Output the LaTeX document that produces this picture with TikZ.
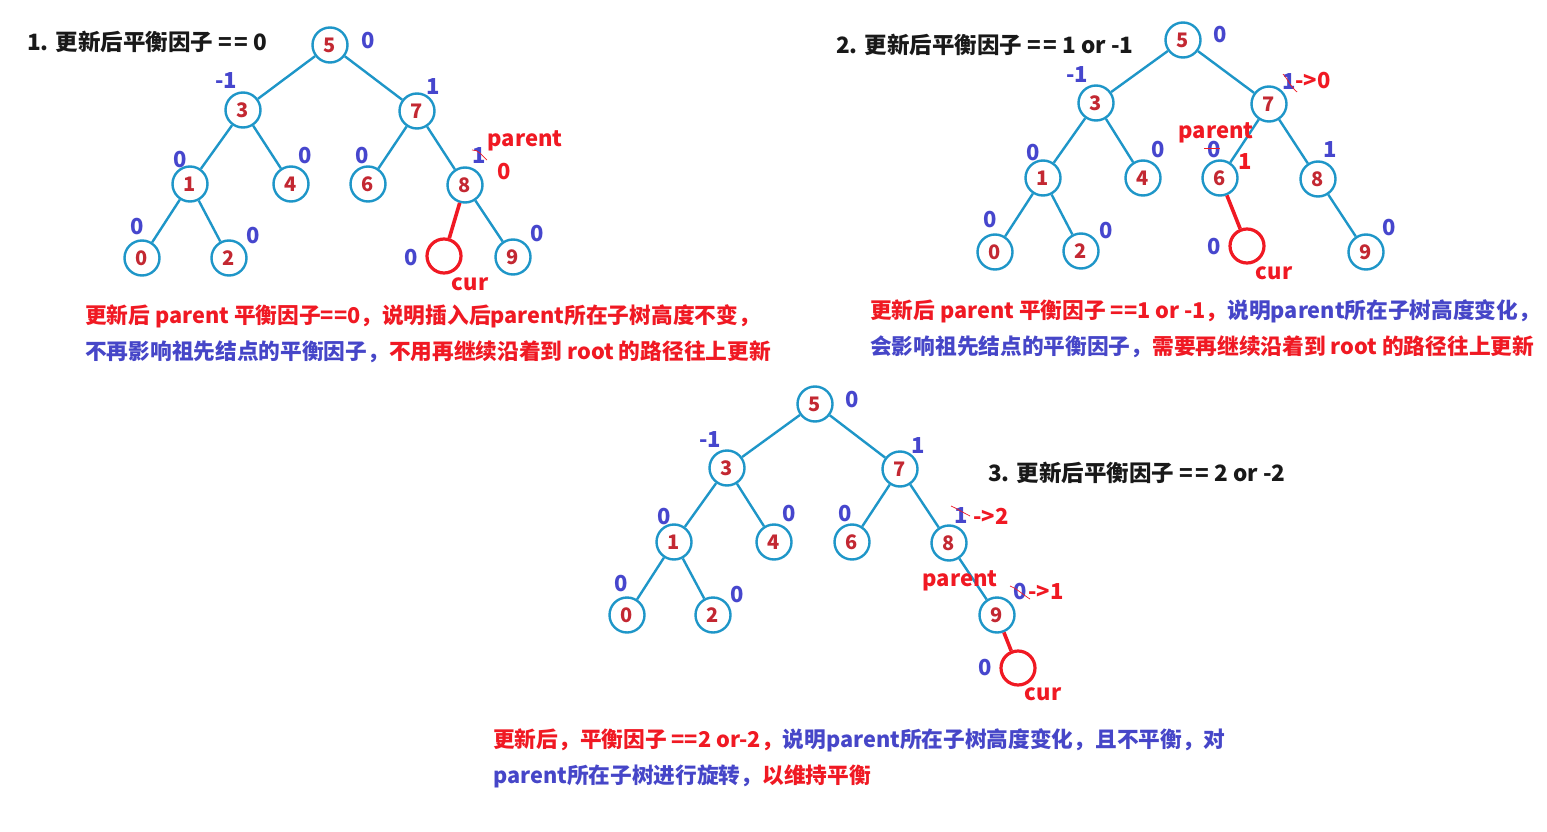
\documentclass[tikz,border=0pt]{standalone}
\usepackage{fontspec}
\setmainfont{Noto Sans CJK SC}
\definecolor{nodeblue}{RGB}{30,150,200}
\definecolor{numred}{RGB}{195,40,50}
\definecolor{lblblue}{RGB}{70,70,205}
\definecolor{txtred}{RGB}{240,25,35}
\definecolor{txtblue}{RGB}{70,70,200}
\definecolor{titleblack}{RGB}{25,25,25}
\newcommand{\eqeq}{=\kern2.5pt=}
\tikzset{
  tn/.style={circle,draw=nodeblue,line width=2.4pt,minimum size=35pt,inner sep=0pt,
    font=\fontsize{20}{20}\selectfont\bfseries,text=numred},
  curnode/.style={circle,draw=txtred,line width=3.2pt,minimum size=34pt,inner sep=0pt},
  edge/.style={draw=nodeblue,line width=2.4pt},
  rededge/.style={draw=txtred,line width=3.6pt},
  bf/.style={inner sep=0pt,font=\fontsize{22}{22}\selectfont\bfseries,text=lblblue},
  rf/.style={inner sep=0pt,font=\fontsize{22}{22}\selectfont\bfseries,text=txtred},
  title/.style={inner sep=0pt,anchor=west,font=\fontsize{22.5}{22.5}\selectfont\bfseries,text=titleblack},
  desc/.style={inner sep=0pt,anchor=west,font=\fontsize{21.7}{21.7}\selectfont\bfseries},
  strike/.style={draw=txtred,line width=0.7pt},
}
\begin{document}
\begin{tikzpicture}[x=1pt,y=-1pt]
\useasboundingbox[fill=white] (0,0) rectangle (1547,832);

% ---------------- Tree 1 ----------------
\node[title] (t1) at (27,42) {1. 更新后平衡因子 \eqeq{} 0};
\node[tn] (a5) at (330,45) {5};
\node[tn] (a3) at (243,110) {3};
\node[tn] (a7) at (417,111) {7};
\node[tn] (a1) at (190,184) {1};
\node[tn] (a4) at (291,184) {4};
\node[tn] (a6) at (368,184) {6};
\node[tn] (a8) at (465,185) {8};
\node[tn] (a0) at (142,258) {0};
\node[tn] (a2) at (229,258) {2};
\node[curnode] (acur) at (444,256) {};
\node[tn] (a9) at (513,257) {9};
\draw[edge] (a5) -- (a3); \draw[edge] (a5) -- (a7);
\draw[edge] (a3) -- (a1); \draw[edge] (a3) -- (a4);
\draw[edge] (a7) -- (a6); \draw[edge] (a7) -- (a8);
\draw[edge] (a1) -- (a0); \draw[edge] (a1) -- (a2);
\draw[edge] (a8) -- (a9);
\draw[rededge] (a8) -- (acur);
\node[bf] (la5) at (368,41) {0};
\node[bf] (la3) at (226,81) {-1};
\node[bf] (la7) at (433,87) {1};
\node[bf] (la1) at (180,160) {0};
\node[bf] (la4) at (305,156) {0};
\node[bf] (la6) at (362,156) {0};
\node[bf] (la8) at (479,156) {1};
\draw[strike] (472,150) .. controls (478,149) and (482,156) .. (487,160);
\node[rf] (pa) at (525,141) {parent};
\node[rf] (la8n) at (504,172) {0};
\node[bf] (la0) at (137,227) {0};
\node[bf] (la2) at (253,236) {0};
\node[bf] (lacur) at (411,258) {0};
\node[rf] (ca) at (470,284) {cur};
\node[bf] (la9) at (537,234) {0};
\node[desc] (d1a) at (85,316) {\color{txtred}更新后 parent 平衡因子==0，说明插入后parent所在子树高度不变，};
\node[desc] (d1b) at (85,352) {\color{txtblue}不再影响祖先结点的平衡因子，\color{txtred}不用再继续沿着到 root 的路径往上更新};

% ---------------- Tree 2 ----------------
\node[title] (t2) at (836,45) {2. 更新后平衡因子 \eqeq{} 1 or -1};
\node[tn] (b5) at (1183,40) {5};
\node[tn] (b3) at (1096,103) {3};
\node[tn] (b7) at (1269,104) {7};
\node[tn] (b1) at (1043,178) {1};
\node[tn] (b4) at (1143,178) {4};
\node[tn] (b6) at (1220,178) {6};
\node[tn] (b8) at (1318,179) {8};
\node[tn] (b0) at (995,252) {0};
\node[tn] (b2) at (1081,251) {2};
\node[curnode] (bcur) at (1247,246) {};
\node[tn] (b9) at (1366,252) {9};
\draw[edge] (b5) -- (b3); \draw[edge] (b5) -- (b7);
\draw[edge] (b3) -- (b1); \draw[edge] (b3) -- (b4);
\draw[edge] (b7) -- (b6); \draw[edge] (b7) -- (b8);
\draw[edge] (b1) -- (b0); \draw[edge] (b1) -- (b2);
\draw[edge] (b8) -- (b9);
\draw[rededge] (b6) -- (bcur);
\node[bf] (lb5) at (1220,35) {0};
\node[bf] (lb3) at (1077,75) {-1};
\node[bf] (lb7) at (1289,82) {1};
\draw[strike] (1283,74) .. controls (1287,78) and (1290,86) .. (1297,92);
\node[rf] (lb7n) at (1313,81) {->0};
\node[rf] (pb) at (1216,133) {parent};
\node[bf] (lb6) at (1214,150) {0};
\draw[strike] (1204,148) -- (1220,148);
\node[rf] (lb6n) at (1245,162) {1};
\node[bf] (lb1) at (1033,153) {0};
\node[bf] (lb4) at (1158,150) {0};
\node[bf] (lb8) at (1330,150) {1};
\node[bf] (lb0) at (990,220) {0};
\node[bf] (lb2) at (1106,231) {0};
\node[bf] (lbcur) at (1214,247) {0};
\node[rf] (cb) at (1274,273) {cur};
\node[bf] (lb9) at (1389,228) {0};
\node[desc] (d2a) at (870,311) {\color{txtred}更新后 parent 平衡因子 ==1 or -1，\color{txtblue}说明parent所在子树高度变化，};
\node[desc] (d2b) at (870,347) {\color{txtblue}会影响祖先结点的平衡因子，\color{txtred}需要再继续沿着到 root 的路径往上更新};

% ---------------- Tree 3 ----------------
\node[title] (t3) at (988,473) {3. 更新后平衡因子 \eqeq{} 2 or -2};
\node[tn] (c5) at (815,404) {5};
\node[tn] (c3) at (727,468) {3};
\node[tn] (c7) at (900,469) {7};
\node[tn] (c1) at (674,542) {1};
\node[tn] (c4) at (774,542) {4};
\node[tn] (c6) at (852,542) {6};
\node[tn] (c8) at (949,543) {8};
\node[tn] (c0) at (627,615) {0};
\node[tn] (c2) at (713,615) {2};
\node[tn] (c9) at (997,615) {9};
\node[curnode] (ccur) at (1018,668) {};
\draw[edge] (c5) -- (c3); \draw[edge] (c5) -- (c7);
\draw[edge] (c3) -- (c1); \draw[edge] (c3) -- (c4);
\draw[edge] (c7) -- (c6); \draw[edge] (c7) -- (c8);
\draw[edge] (c1) -- (c0); \draw[edge] (c1) -- (c2);
\draw[edge] (c8) -- (c9);
\draw[rededge] (c9) -- (ccur);
\node[bf] (lc5) at (852,400) {0};
\node[bf] (lc3) at (710,440) {-1};
\node[bf] (lc7) at (918,446) {1};
\node[bf] (lc1) at (664,517) {0};
\node[bf] (lc4) at (789,514) {0};
\node[bf] (lc6) at (845,514) {0};
\node[bf] (lc8) at (961,516) {1};
\draw[strike] (951,506) .. controls (956,508) and (962,512) .. (970,516);
\node[rf] (lc8n) at (991,516) {->2};
\node[rf] (pc) at (960,581) {parent};
\node[bf] (lc9) at (1020,592) {0};
\draw[strike] (1010,586) .. controls (1016,588) and (1022,594) .. (1030,599);
\node[rf] (lc9n) at (1046,592) {->1};
\node[bf] (lc0) at (621,584) {0};
\node[bf] (lc2) at (737,595) {0};
\node[bf] (lccur) at (985,668) {0};
\node[rf] (cc) at (1043,694) {cur};
\node[desc] (d3a) at (493,740) {\color{txtred}更新后，平衡因子 ==2 or-2，\color{txtblue}说明parent所在子树高度变化，且不平衡，对};
\node[desc] (d3b) at (493,776) {\color{txtblue}parent所在子树进行旋转，\color{txtred}以维持平衡};
\end{tikzpicture}
\end{document}
